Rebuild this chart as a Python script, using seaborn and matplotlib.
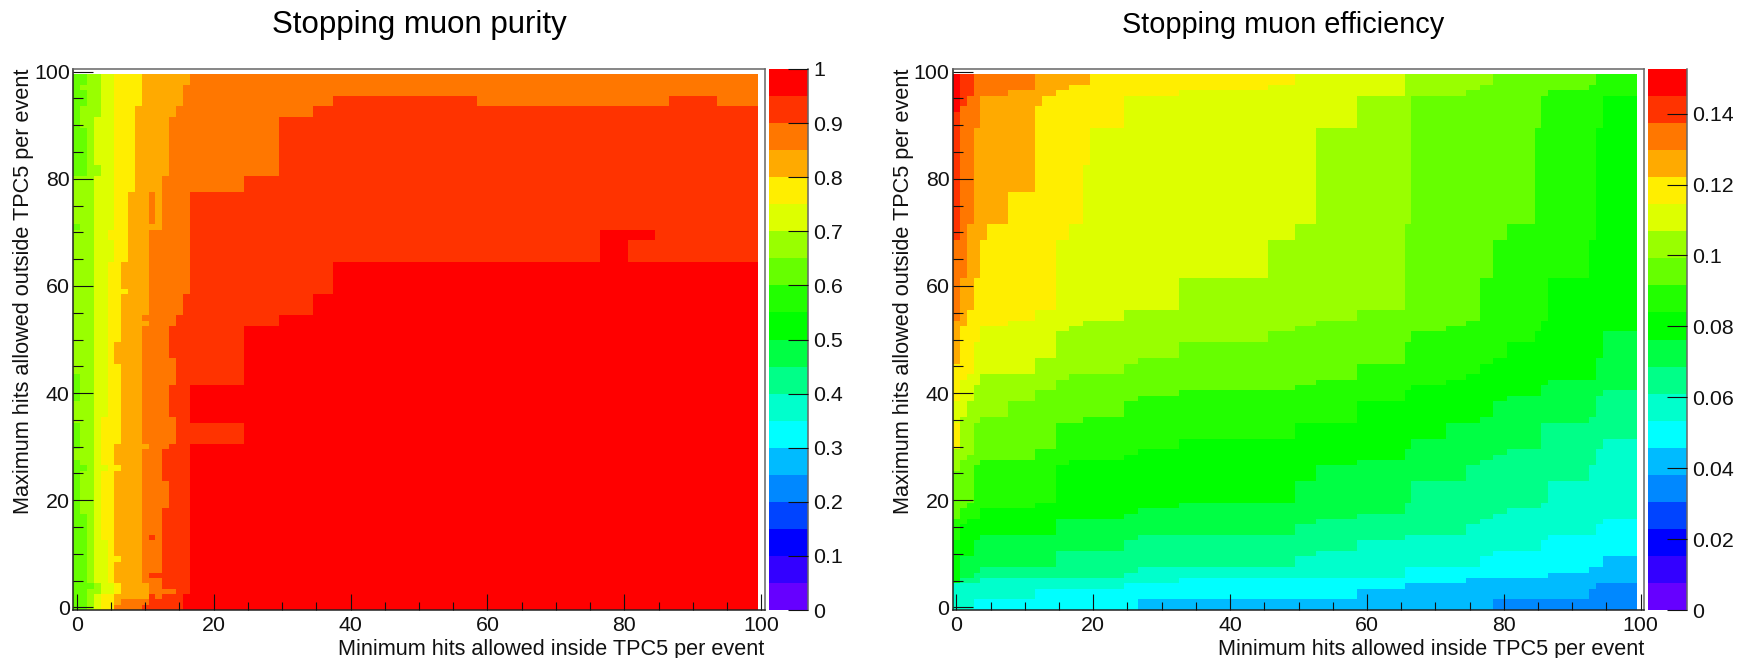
import numpy as np
import pandas as pd
import matplotlib
matplotlib.use("Agg")
import matplotlib.pyplot as plt
from matplotlib.colors import ListedColormap
from matplotlib.ticker import FixedLocator
import seaborn as sns

TITLES = ["Stopping muon purity", "Stopping muon efficiency"]
X_LABEL = "Minimum hits allowed inside TPC5 per event"
Y_LABEL = "Maximum hits allowed outside TPC5 per event"
N_BINS = 100
BANDS = 20
PALETTE = ["#6600ff", "#3300ff", "#0000ff", "#0044ff", "#0088ff", "#00bbff", "#00ffff",
           "#00ffcc", "#00ff88", "#00ff44", "#00ff00", "#22ff00", "#66ff00", "#99ff00",
           "#ddff00", "#ffee00", "#ffaa00", "#ff7700", "#ff3300", "#ff0000"]
PURITY_MAX = 1.0
EFF_MAX = 0.1526
PURITY_TICKS = [0, 0.1, 0.2, 0.3, 0.4, 0.5, 0.6, 0.7, 0.8, 0.9, 1]
PURITY_TICK_LABELS = ["0", "0.1", "0.2", "0.3", "0.4", "0.5", "0.6", "0.7", "0.8", "0.9", "1"]
EFF_TICKS = [0, 0.02, 0.04, 0.06, 0.08, 0.1, 0.12, 0.14]
EFF_TICK_LABELS = ["0", "0.02", "0.04", "0.06", "0.08", "0.1", "0.12", "0.14"]

# Purity: band index at or above which a cell sits, read row by row:
# (first row of the run, first column reaching the band)
PURITY_BASE = 12
PURITY_GE = {
    13: [(0, 2), (4, 3), (5, 2), (18, 1), (26, 2), (27, 1), (28, 0), (30, 1), (35, 0), (39, 1),
         (44, 0), (71, 1), (72, 0), (81, 2), (90, 1), (94, 2), (97, 1), (98, 2)],
    14: [(0, 3), (3, 4), (5, 3), (81, 4), (83, 3), (92, 4)],
    15: [(0, 4), (3, 6), (5, 5), (13, 4), (26, 5), (27, 4), (36, 5), (65, 6), (69, 5), (71, 6)],
    16: [(0, 6), (3, 7), (5, 6), (9, 7), (10, 6), (26, 7), (27, 6), (31, 7), (46, 6), (50, 7),
         (59, 8), (60, 7), (65, 8), (78, 9), (94, 10)],
    17: [(0, 6), (1, 7), (2, 11), (5, 10), (30, 11), (31, 10), (53, 11), (54, 10), (55, 11),
         (71, 13), (81, 14), (92, 15), (94, 16), (98, 17)],
    18: [(0, 10), (1, 11), (3, 15), (4, 13), (6, 11), (7, 13), (19, 14), (24, 13), (30, 14),
         (31, 15), (36, 14), (42, 15), (47, 14), (53, 15), (55, 16), (59, 17), (78, 25),
         (81, 30), (92, 35), (94, 101)],
    19: [(0, 16), (3, 17), (31, 25), (35, 17), (42, 25), (53, 30), (55, 35), (59, 38), (65, 101)],
}
# (col from, col to, row from, row to, band)
PURITY_ISLANDS = [(11, 12, 72, 78, 17), (11, 12, 13, 14, 18), (12, 13, 2, 3, 17),
                  (38, 59, 94, 96, 18), (87, 94, 94, 96, 18),
                  (77, 81, 65, 71, 19), (81, 85, 69, 71, 19)]

# Efficiency: read column by column: (first column of the run, first row reaching the band)
EFF_BASE = 4
EFF_GE = {
    5: [(0, 0), (79, 2), (93, 4), (94, 5)],
    6: [(0, 0), (27, 2), (59, 4), (66, 5), (75, 6), (87, 7), (93, 8), (95, 10)],
    7: [(0, 0), (3, 2), (12, 4), (25, 5), (33, 6), (66, 8), (77, 10), (79, 11), (86, 13),
        (87, 14), (94, 16), (95, 17)],
    8: [(0, 5), (4, 6), (25, 7), (27, 8), (50, 10), (53, 11), (59, 13), (66, 14), (75, 16),
        (77, 17), (79, 18), (81, 19), (86, 20), (87, 24), (93, 27), (94, 30), (95, 32)],
    9: [(0, 5), (1, 6), (3, 7), (4, 8), (15, 11), (25, 13), (27, 14), (50, 16), (53, 17), (59, 18),
        (66, 20), (67, 24), (75, 27), (77, 28), (79, 29), (81, 30), (86, 35), (93, 36), (94, 40),
        (95, 41)],
    10: [(0, 5), (1, 10), (3, 13), (4, 14), (15, 17), (25, 18), (27, 19), (33, 20), (50, 24),
         (53, 27), (59, 28), (66, 30), (67, 32), (72, 35), (77, 36), (79, 39), (81, 40), (86, 42),
         (87, 43), (94, 47), (95, 52)],
    11: [(0, 13), (1, 16), (2, 17), (4, 19), (12, 20), (15, 27), (17, 28), (25, 29), (27, 30),
         (33, 32), (50, 35), (59, 39), (66, 41), (67, 42), (72, 43), (75, 44), (77, 46), (79, 47),
         (81, 50), (85, 52), (86, 54), (87, 62), (93, 69), (94, 90), (95, 96)],
    12: [(0, 17), (1, 19), (2, 20), (3, 27), (4, 28), (12, 30), (15, 35), (19, 36), (25, 39),
         (27, 40), (33, 41), (50, 42), (53, 43), (59, 46), (66, 50), (67, 52), (72, 53), (75, 54),
         (77, 62), (79, 69), (81, 72), (85, 90), (86, 96), (87, 97), (93, 98), (94, 101)],
    13: [(0, 26), (1, 28), (2, 29), (3, 35), (4, 36), (8, 39), (12, 41), (15, 43), (17, 44),
         (25, 46), (27, 47), (33, 50), (46, 52), (50, 53), (53, 54), (59, 56), (66, 72), (67, 96),
         (75, 97), (77, 98), (79, 101)],
    14: [(0, 30), (1, 36), (2, 39), (3, 42), (4, 44), (12, 47), (15, 52), (17, 53), (19, 54),
         (25, 56), (33, 62), (46, 69), (50, 72), (53, 90), (59, 96), (66, 101)],
    15: [(0, 30), (1, 43), (2, 44), (3, 50), (4, 53), (8, 54), (12, 56), (15, 69), (17, 72),
         (19, 83), (20, 90), (25, 96), (33, 97), (46, 98), (50, 101)],
    16: [(0, 46), (1, 53), (2, 56), (3, 62), (4, 69), (5, 72), (8, 78), (12, 94), (13, 96),
         (15, 97), (17, 98), (20, 101)],
    17: [(0, 54), (1, 62), (2, 72), (3, 90), (4, 96), (8, 97), (12, 101)],
    18: [(0, 69), (1, 94), (2, 96), (3, 101)],
    19: [(0, 93), (1, 101)],
}
EFF_ISLANDS = [(0, 1, 35, 39, 14)]


def runs(steps, size):
    for i, (start, edge) in enumerate(steps):
        stop = steps[i + 1][0] if i + 1 < len(steps) else size
        yield start, stop, edge


def bands_by_row(base, table, islands):
    z = np.full((N_BINS, N_BINS), base, dtype=int)
    for band in sorted(table):
        for r0, r1, c in runs(table[band], N_BINS):
            z[r0:r1, c:] = band
    for c0, c1, r0, r1, band in islands:
        z[r0:r1, c0:c1] = band
    return z


def bands_by_col(base, table, islands):
    z = np.full((N_BINS, N_BINS), base, dtype=int)
    for band in sorted(table):
        for c0, c1, r in runs(table[band], N_BINS):
            z[r:, c0:c1] = band
    for c0, c1, r0, r1, band in islands:
        z[r0:r1, c0:c1] = band
    return z


W, H = 1748, 658
FONT = "Liberation Sans"
sns.set_theme(style="white")
plt.rcParams["font.family"] = [FONT, "DejaVu Sans"]
fig = plt.figure(figsize=(W / 100, H / 100), dpi=100, facecolor="white")


def box(x0, x1, y0, y1):
    return [x0 / W, 1 - y1 / H, (x1 - x0) / W, (y1 - y0) / H]


cmap = ListedColormap(PALETTE)
PANELS = [
    dict(z=bands_by_row(PURITY_BASE, PURITY_GE, PURITY_ISLANDS), zmax=PURITY_MAX,
         ticks=PURITY_TICKS, labels=PURITY_TICK_LABELS, axes=(73.3, 764.7), cbar=(769, 807.5),
         title_x=419, title_size=22.5),
    dict(z=bands_by_col(EFF_BASE, EFF_GE, EFF_ISLANDS), zmax=EFF_MAX,
         ticks=EFF_TICKS, labels=EFF_TICK_LABELS, axes=(953, 1644), cbar=(1648, 1687),
         title_x=1283, title_size=20.8),
]
TOP, BOTTOM = 69, 610
TICK_SIZE = 15.4
LABEL_SIZE = 15.6
GREY = "#666666"

for title, p in zip(TITLES, PANELS):
    ax = fig.add_axes(box(p["axes"][0], p["axes"][1], TOP, BOTTOM))
    cax = fig.add_axes(box(p["cbar"][0], p["cbar"][1], TOP, BOTTOM))
    df = pd.DataFrame((p["z"] + 0.5) / BANDS * p["zmax"])
    sns.heatmap(df, ax=ax, cbar_ax=cax, cmap=cmap, vmin=0, vmax=p["zmax"],
                xticklabels=False, yticklabels=False, linewidths=0, square=False)
    ax.set_xlim(0, N_BINS + 1)
    ax.set_ylim(0, N_BINS + 1)
    ax.set_xlabel("")
    ax.set_ylabel("")
    ax.set_axisbelow(False)
    cax.set_axisbelow(False)

    ax.xaxis.set_major_locator(FixedLocator([v + 0.5 for v in range(0, 101, 20)]))
    ax.yaxis.set_major_locator(FixedLocator([v + 0.5 for v in range(0, 101, 20)]))
    ax.xaxis.set_minor_locator(FixedLocator([v + 0.5 for v in range(0, 101, 5)]))
    ax.yaxis.set_minor_locator(FixedLocator([v + 0.5 for v in range(0, 101, 5)]))
    ax.set_xticklabels([str(v) for v in range(0, 101, 20)])
    ax.set_yticklabels([str(v) for v in range(0, 101, 20)], rotation=0)
    ax.tick_params(axis="x", which="major", direction="in", length=11.5, width=0.8, color="#111111",
                   bottom=True, labelbottom=True, labelsize=TICK_SIZE, pad=4, labelcolor="#111111")
    ax.tick_params(axis="x", which="minor", direction="in", length=5.8, width=0.8, color="#111111", bottom=True)
    ax.tick_params(axis="y", which="major", direction="in", length=14.6, width=0.8, color="#111111",
                   left=True, labelleft=True, labelsize=TICK_SIZE, pad=2.5, labelcolor="#111111")
    ax.tick_params(axis="y", which="minor", direction="in", length=7.3, width=0.8, color="#111111", left=True)

    for side, colour in (("left", "#222222"), ("bottom", "#222222"), ("top", GREY), ("right", GREY)):
        ax.spines[side].set_visible(True)
        ax.spines[side].set_color(colour)
        ax.spines[side].set_linewidth(1.1)

    ax.set_xlabel(X_LABEL, fontsize=LABEL_SIZE, color="#111111", ha="right", va="center")
    ax.xaxis.set_label_coords(1.0, -(649 - BOTTOM) / (BOTTOM - TOP))
    ax.set_ylabel(Y_LABEL, fontsize=LABEL_SIZE, color="#111111", ha="right", va="center")
    ax.yaxis.set_label_coords(-50 / (p["axes"][1] - p["axes"][0]), 1.0)

    fig.text(p["title_x"] / W, 1 - 25 / H, title, fontsize=p["title_size"], color="black",
             ha="center", va="center")

    cbar = ax.collections[0].colorbar
    cbar.set_ticks(p["ticks"])
    cbar.set_ticklabels(p["labels"])
    cbar.minorticks_off()
    cbar.outline.set_visible(False)
    cax.spines["right"].set_visible(True)
    cax.spines["right"].set_color(GREY)
    cax.spines["right"].set_linewidth(1.1)
    cax.tick_params(axis="y", which="major", direction="in", length=14.6, width=0.8, color="#111111",
                    right=True, labelright=True, labelsize=TICK_SIZE, pad=4, labelcolor="#111111")

fig.savefig("out.png", dpi=100, facecolor="white")
